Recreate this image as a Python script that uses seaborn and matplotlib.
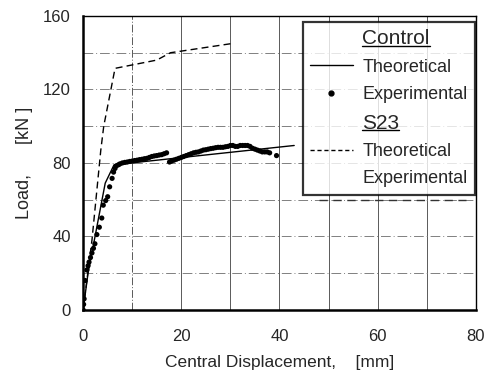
import numpy as np
import pandas as pd
import seaborn as sns
import matplotlib
matplotlib.use("Agg")
import matplotlib.pyplot as plt
from matplotlib.lines import Line2D

# datos
ctrl_theo_x = [0, 1.0, 4.5, 6.3, 43]
ctrl_theo_y = [0, 20, 69, 79, 89.5]

s23_theo_x = [0, 1.8, 3.6, 4.2, 6.5, 15, 17.8, 30.3]
s23_theo_y = [0, 38, 87, 100, 131.5, 136, 140, 145]

ctrl_exp_x = [0, 0.1, 0.2, 0.4, 0.75, 1.0, 1.2, 1.5, 1.8, 2.1, 2.4, 2.8, 3.3, 3.8, 4.1, 4.6,
              5.0, 5.4, 5.9, 6.2, 6.5, 6.8, 7.2, 7.5, 8, 8.5, 9, 9.5, 10, 10.5, 11, 11.5,
              12, 12.5, 13, 13.5, 14, 14.5, 15, 15.5, 16, 16.5, 17,
              17.6, 18, 18.5, 19, 19.5, 20, 20.5, 21, 21.5, 22, 22.5, 23, 23.5, 24, 24.5,
              25, 25.5, 26, 26.5, 27, 27.5, 28, 28.5, 29, 29.5, 30, 30.5, 31, 31.5, 32,
              32.5, 33, 33.5, 34, 34.5, 35, 35.5, 36, 36.5, 37, 37.5, 38.0, 39.4]
ctrl_exp_y = [0, 3, 6, 16, 21.7, 24, 26, 28.5, 31, 33.5, 36, 41, 45, 50, 57, 59.5,
              61.6, 67, 71.6, 75, 77, 78.5, 79, 79.5, 80, 80.3, 80.5, 80.8, 81, 81.3, 81.5, 81.8,
              82, 82.3, 82.5, 83, 83.5, 83.8, 84, 84.3, 84.5, 85, 85.5,
              80.5, 81, 81.5, 82, 82.5, 83, 83.5, 84, 84.5, 85, 85.5, 85.8, 86, 86.5, 87,
              87.2, 87.5, 87.8, 88, 88.3, 88.5, 88.5, 88.5, 88.8, 89, 89.5, 89.5, 89, 89, 89.5,
              89.5, 89.5, 89.5, 89, 88, 87.5, 87, 86.5, 86, 86, 86, 85.5, 84]

x_ticks = [0, 20, 40, 60, 80]
y_ticks = [0, 40, 80, 120, 160]

sns.set_style("white")
plt.rcParams["font.family"] = ["Liberation Sans", "DejaVu Sans"]

fig = plt.figure(figsize=(4.89, 3.72), dpi=100)
ax = fig.add_axes([0.17, 0.167, 0.803, 0.79])

# rejilla
for gx in range(10, 80, 10):
    ax.axvline(gx, color="0.35", lw=0.7, ls=(0, (8, 2, 1, 2)) if gx == 10 else "-", zorder=0)
for gy in range(20, 160, 20):
    ax.axhline(gy, color="0.5", lw=0.7, ls=(0, (10, 3, 1, 3)), zorder=0)
ax.plot([48, 78], [60, 60], color="0.2", lw=1.0, ls=(0, (6, 4)), zorder=0)

sns.lineplot(x=ctrl_theo_x, y=ctrl_theo_y, ax=ax, color="black", lw=1.0, sort=False)
sns.lineplot(x=s23_theo_x, y=s23_theo_y, ax=ax, color="black", lw=1.0, sort=False,
             linestyle=(0, (5, 3)))
sns.scatterplot(x=ctrl_exp_x, y=ctrl_exp_y, ax=ax, color="black", s=14, edgecolor="none")

ax.set_xlim(0, 80)
ax.set_ylim(0, 160)
ax.set_xticks(x_ticks)
ax.set_yticks(y_ticks)
ax.tick_params(axis="both", direction="out", length=5, width=1.2, labelsize=12, color="black")
ax.tick_params(axis="x", pad=9)
ax.tick_params(axis="y", pad=4)
ax.set_xlabel("Central Displacement,    [mm]", fontsize=12.5, labelpad=8)
ax.set_ylabel("Load,      [kN ]", fontsize=13, labelpad=7)

for s in ["left", "bottom"]:
    ax.spines[s].set_linewidth(1.8)
for s in ["top", "right"]:
    ax.spines[s].set_linewidth(1.0)
for s in ax.spines.values():
    s.set_color("black")

blank = Line2D([], [], color="none")
handles = [blank,
           Line2D([], [], color="black", lw=1.0),
           Line2D([], [], color="black", marker="o", ls="none", markersize=3.5),
           blank,
           Line2D([], [], color="black", lw=1.0, ls=(0, (3, 2))),
           blank]
labels = ["Control", "Theoretical", "Experimental", "S23", "Theoretical", "Experimental"]
leg = ax.legend(handles, labels, loc="upper right", bbox_to_anchor=(0.997, 0.98),
                frameon=True, fancybox=False, edgecolor="black", fontsize=13,
                handlelength=2.4, handletextpad=0.5, labelspacing=0.58, borderpad=0.4,
                borderaxespad=0.0)
leg.get_frame().set_linewidth(1.6)
texts = leg.get_texts()
for i in [0, 3]:
    texts[i].set_fontsize(15)

fig.canvas.draw()
renderer = fig.canvas.get_renderer()
inv = fig.transFigure.inverted()
for i in [0, 3]:
    bb = texts[i].get_window_extent(renderer)
    (x0, y0), (x1, y1) = inv.transform([[bb.x0, bb.y0], [bb.x1, bb.y1]])
    fig.add_artist(Line2D([x0, x1], [y0 + 0.006, y0 + 0.006], color="black", lw=1.0,
                          transform=fig.transFigure))

fig.savefig("out.png", dpi=100)
